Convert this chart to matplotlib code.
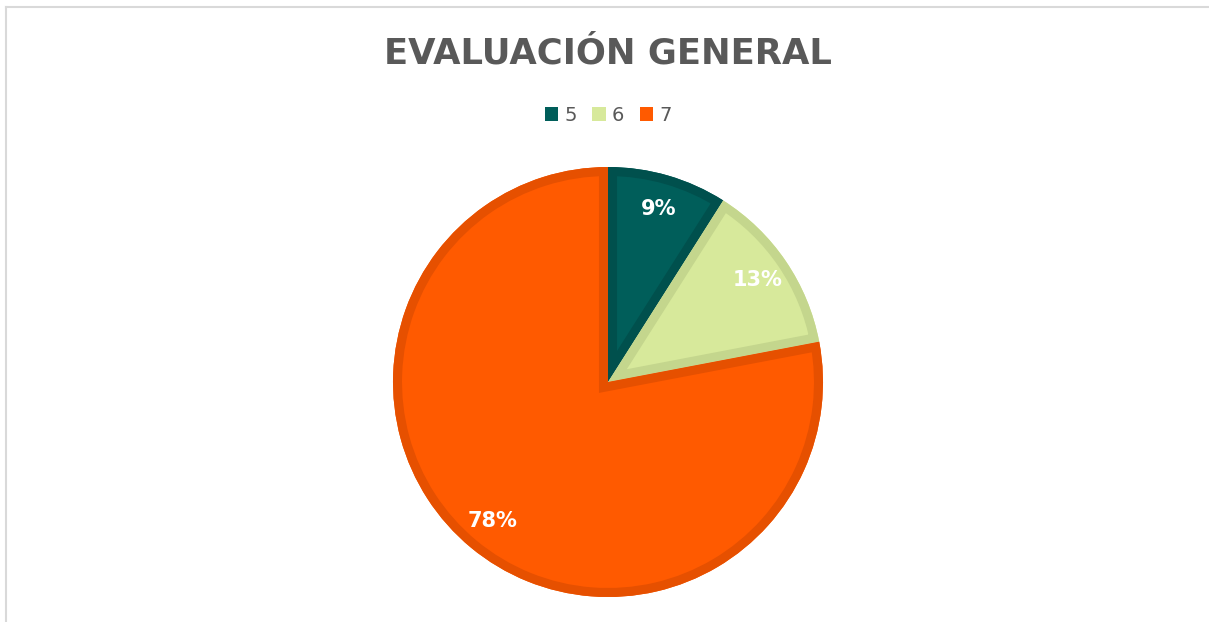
import matplotlib.pyplot as plt
from matplotlib.lines import Line2D
from matplotlib.patches import Wedge

# datos
categorias = ["5", "6", "7"]
valores = [9, 13, 78]
colores = ["#005E5A", "#D7E99B", "#FF5A00"]
bordes = ["#00504D", "#C4D68D", "#E65000"]
titulo = "EVALUACIÓN GENERAL"

W, H = 1209, 622
fig = plt.figure(figsize=(W / 100, H / 100), dpi=100)
fig.patch.set_facecolor("white")

# marco gris (solo arriba e izquierda visibles)
fig.add_artist(Line2D([6 / W, 6 / W], [0, 1 - 7 / H], color="#D9D9D9", lw=1.5))
fig.add_artist(Line2D([6 / W, 1], [1 - 7 / H, 1 - 7 / H], color="#D9D9D9", lw=1.5))

# eje del pastel, centrado en (608, 382) px con radio 215 px
cx, cy, r = 608, 382, 215
ax = fig.add_axes([(cx - r) / W, (H - cy - r) / H, 2 * r / W, 2 * r / H])
wedges, _, autotexts = ax.pie(
    valores, colors=colores, startangle=90, counterclock=False,
    autopct=lambda p: f"{p:.0f}%", pctdistance=0.84, radius=1,
    wedgeprops=dict(linewidth=0),
    textprops=dict(color="white", fontsize=15, fontweight="bold"),
)
ax.set_xlim(-1, 1)
ax.set_ylim(-1, 1)
ax.set_aspect("equal")
ax.axis("off")

# borde interior más oscuro en cada porción
for w, b in zip(wedges, bordes):
    borde = Wedge(w.center, w.r, w.theta1, w.theta2, facecolor="none",
                  edgecolor=b, linewidth=13, transform=ax.transData)
    ax.add_patch(borde)
    borde.set_clip_path(w)

for t in autotexts:
    t.set_zorder(5)

fig.text(cx / W, 1 - 53 / H, titulo, ha="center", va="center",
         fontsize=25.5, fontweight="bold", color="#595959")

handles = [plt.Rectangle((0, 0), 1, 1, facecolor=c) for c in colores]
fig.legend(handles, categorias, loc="center", bbox_to_anchor=(cx / W, 1 - 115 / H),
           ncol=3, frameon=False, fontsize=14, handlelength=0.7, handleheight=0.7,
           handletextpad=0.3, columnspacing=0.8, labelcolor="#595959")

fig.savefig("out.png", dpi=100)
